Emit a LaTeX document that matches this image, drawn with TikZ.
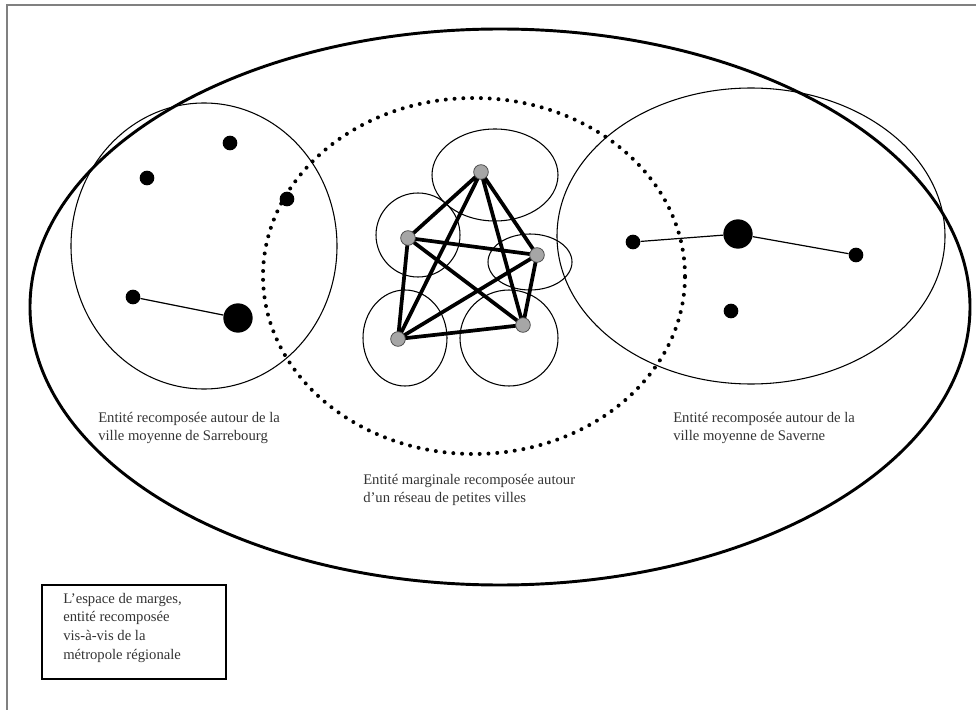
\documentclass[tikz,border=0pt]{standalone}
\usepackage{fontspec}
\setmainfont{Liberation Serif}
\begin{document}
\begin{tikzpicture}[x=0.75pt,y=-0.75pt,
  label text/.style={anchor=north west,inner sep=0pt,align=left,text=black!80,
    font=\fontsize{11}{13.6}\selectfont},
  town/.style={circle,fill=black,inner sep=0pt,minimum size=11pt},
  bigtown/.style={circle,fill=black,inner sep=0pt,minimum size=22pt},
  smalltown/.style={circle,fill=black!35,draw=black!70,line width=0.6pt,inner sep=0pt,minimum size=11pt},
  area/.style={line width=0.8pt},
  link/.style={line width=0.9pt},
  netlink/.style={line width=2.8pt},
  dotted ring/.style={line width=3pt,line cap=round,dash pattern=on 0pt off 6.6pt}]
\useasboundingbox (0,0) rectangle (976,710);
% page frame
\draw[black!50,line width=1pt] (976,5) -- (7,5) -- (7,710);

% outer region
\draw[line width=2.2pt] (500,307) ellipse [x radius=352.5pt,y radius=208.5pt];
% the two entities around medium towns
\draw[area] (204,246) ellipse [x radius=99.75pt,y radius=107.25pt];
\draw[area] (751,236) ellipse [x radius=145.5pt,y radius=111pt];
% marginal entity
\draw[dotted ring] (474,276) ellipse [x radius=158.25pt,y radius=133.5pt];

% catchments of the small towns
\draw[area] (495,175) ellipse [x radius=47.25pt,y radius=34.5pt];
\draw[area] (418,235) ellipse [x radius=31.5pt,y radius=31.5pt];
\draw[area] (530,262) ellipse [x radius=31.5pt,y radius=21pt];
\draw[area] (405,338) ellipse [x radius=31.5pt,y radius=36pt];
\draw[area] (509,338) ellipse [x radius=36.75pt,y radius=36pt];

% Sarrebourg
\node[town] (s1) at (230,143) {};
\node[town] (s2) at (147,178) {};
\node[town] (s3) at (287,199) {};
\node[town] (s4) at (133,297) {};
\node[bigtown] (sar) at (238,318) {};
\draw[link] (s4) -- (sar);

% Saverne
\node[town] (v1) at (633,242) {};
\node[bigtown] (sav) at (738,234) {};
\node[town] (v2) at (856,255) {};
\node[town] (v3) at (731,311) {};
\draw[link] (v1) -- (sav);
\draw[link] (sav) -- (v2);

% network of small towns
\coordinate (pa) at (481,172);
\coordinate (pb) at (408,238);
\coordinate (pc) at (537,255);
\coordinate (pd) at (398,339);
\coordinate (pe) at (523,325);
\draw[netlink] (pa) -- (pb) (pa) -- (pc) (pa) -- (pd) (pa) -- (pe)
  (pb) -- (pc) (pb) -- (pd) (pb) -- (pe)
  (pc) -- (pd) (pc) -- (pe) (pd) -- (pe);
\node[smalltown] (a) at (pa) {};
\node[smalltown] (b) at (pb) {};
\node[smalltown] (c) at (pc) {};
\node[smalltown] (d) at (pd) {};
\node[smalltown] (e) at (pe) {};

% labels
\node[label text] (lsar) at (98,412) {Entité recomposée autour de la\\ville moyenne de Sarrebourg};
\node[label text] (lsav) at (673,412) {Entité recomposée autour de la\\ville moyenne de Saverne};
\node[label text] (lnet) at (363,474) {Entité marginale recomposée autour\\d’un réseau de petites villes};

% legend box
\draw[line width=1.4pt] (42,585) rectangle (226,679);
\node[label text,font=\fontsize{11}{13.9}\selectfont] (legend) at (63,593)
  {L’espace de marges,\\entité recomposée\\vis-à-vis de la\\métropole régionale};
\end{tikzpicture}
\end{document}
